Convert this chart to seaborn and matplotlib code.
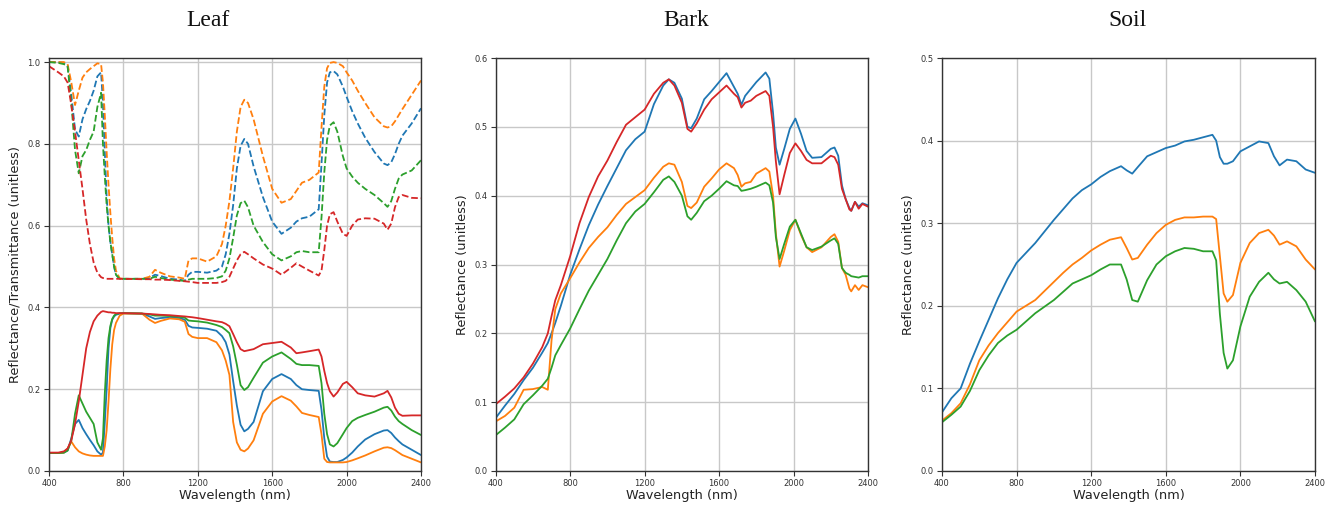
import numpy as np
import pandas as pd
import matplotlib
matplotlib.use("Agg")
import matplotlib.pyplot as plt
import seaborn as sns

# ---------------- data ----------------
leaf_wl = [400, 450, 480, 500, 520, 540, 560, 580, 600, 620, 640, 660,
           680, 690, 700, 710, 720, 730, 740, 750, 760, 780, 800, 900,
           940, 970, 1000, 1050, 1100, 1130, 1150, 1170, 1200, 1250, 1300, 1330,
           1350, 1370, 1390, 1410, 1430, 1450, 1470, 1500, 1550, 1600, 1650, 1700,
           1730, 1760, 1800, 1850, 1865, 1880, 1895, 1910, 1930, 1950, 1980, 2000,
           2030, 2060, 2100, 2150, 2200, 2220, 2240, 2260, 2280, 2300, 2350, 2400]

# dashed (upper) curves
leaf_t_blue = [1.0, 1.0, 0.998, 0.99, 0.92, 0.835, 0.818, 0.86, 0.885, 0.905, 0.93, 0.965,
               0.975, 0.90, 0.78, 0.67, 0.60, 0.56, 0.53, 0.50, 0.48, 0.47, 0.47, 0.47,
               0.472, 0.48, 0.477, 0.47, 0.468, 0.465, 0.48, 0.487, 0.487, 0.485, 0.49, 0.50,
               0.53, 0.58, 0.65, 0.74, 0.795, 0.812, 0.80, 0.745, 0.67, 0.61, 0.58, 0.595,
               0.61, 0.618, 0.622, 0.64, 0.75, 0.87, 0.95, 0.975, 0.978, 0.97, 0.94, 0.915,
               0.88, 0.85, 0.815, 0.78, 0.752, 0.748, 0.755, 0.775, 0.80, 0.82, 0.85, 0.887]
leaf_t_orange = [1.0, 1.0, 1.0, 0.995, 0.95, 0.895, 0.93, 0.962, 0.975, 0.983, 0.99, 0.997,
                 0.995, 0.95, 0.87, 0.78, 0.70, 0.63, 0.57, 0.52, 0.49, 0.471, 0.47, 0.47,
                 0.475, 0.492, 0.485, 0.476, 0.473, 0.47, 0.515, 0.52, 0.52, 0.512, 0.525, 0.555,
                 0.60, 0.66, 0.74, 0.83, 0.89, 0.908, 0.90, 0.86, 0.77, 0.69, 0.656, 0.665,
                 0.685, 0.705, 0.712, 0.73, 0.84, 0.94, 0.985, 0.998, 1.0, 0.998, 0.99, 0.975,
                 0.955, 0.93, 0.90, 0.865, 0.843, 0.84, 0.843, 0.855, 0.87, 0.885, 0.92, 0.955]
leaf_t_green = [1.0, 0.998, 0.995, 0.99, 0.90, 0.785, 0.728, 0.77, 0.785, 0.81, 0.83, 0.89,
                0.925, 0.80, 0.72, 0.65, 0.60, 0.56, 0.53, 0.50, 0.48, 0.47, 0.47, 0.47,
                0.47, 0.475, 0.472, 0.468, 0.466, 0.465, 0.468, 0.47, 0.47, 0.47, 0.472, 0.476,
                0.49, 0.52, 0.57, 0.625, 0.655, 0.661, 0.645, 0.60, 0.56, 0.53, 0.515, 0.525,
                0.535, 0.538, 0.535, 0.535, 0.62, 0.73, 0.81, 0.845, 0.853, 0.83, 0.77, 0.74,
                0.72, 0.705, 0.69, 0.675, 0.655, 0.646, 0.66, 0.69, 0.715, 0.725, 0.735, 0.76]
leaf_t_red = [0.99, 0.975, 0.965, 0.95, 0.895, 0.83, 0.76, 0.69, 0.615, 0.555, 0.51, 0.485,
              0.474, 0.472, 0.471, 0.47, 0.47, 0.47, 0.47, 0.47, 0.47, 0.47, 0.47, 0.469,
              0.469, 0.468, 0.468, 0.467, 0.465, 0.464, 0.463, 0.462, 0.46, 0.46, 0.46, 0.462,
              0.465, 0.475, 0.495, 0.515, 0.53, 0.536, 0.53, 0.52, 0.505, 0.495, 0.48, 0.497,
              0.508, 0.50, 0.49, 0.478, 0.49, 0.54, 0.60, 0.628, 0.633, 0.61, 0.58, 0.575,
              0.60, 0.615, 0.618, 0.617, 0.605, 0.59, 0.605, 0.645, 0.67, 0.675, 0.668, 0.667]

# solid (lower) curves
leaf_r_blue = [0.044, 0.044, 0.045, 0.05, 0.08, 0.115, 0.125, 0.105, 0.09, 0.076, 0.063, 0.048,
               0.04, 0.045, 0.12, 0.20, 0.30, 0.35, 0.37, 0.378, 0.382, 0.385, 0.386, 0.385,
               0.378, 0.372, 0.374, 0.376, 0.374, 0.37, 0.355, 0.351, 0.35, 0.348, 0.343, 0.33,
               0.315, 0.285, 0.22, 0.16, 0.113, 0.097, 0.103, 0.12, 0.195, 0.225, 0.237, 0.225,
               0.21, 0.20, 0.198, 0.196, 0.15, 0.08, 0.035, 0.023, 0.022, 0.022, 0.027, 0.033,
               0.045, 0.06, 0.077, 0.09, 0.099, 0.10, 0.093, 0.082, 0.073, 0.065, 0.052, 0.039]
leaf_r_orange = [0.044, 0.044, 0.045, 0.055, 0.072, 0.058, 0.048, 0.043, 0.04, 0.038, 0.037, 0.037,
                 0.037, 0.037, 0.06, 0.10, 0.17, 0.25, 0.31, 0.345, 0.362, 0.38, 0.385, 0.385,
                 0.37, 0.362, 0.367, 0.373, 0.371, 0.365, 0.335, 0.328, 0.325, 0.325, 0.315, 0.295,
                 0.27, 0.235, 0.12, 0.07, 0.052, 0.048, 0.055, 0.075, 0.14, 0.17, 0.183, 0.172,
                 0.158, 0.142, 0.137, 0.132, 0.09, 0.03, 0.022, 0.021, 0.021, 0.021, 0.021, 0.022,
                 0.026, 0.031, 0.038, 0.048, 0.057, 0.058, 0.056, 0.051, 0.045, 0.039, 0.03, 0.021]
leaf_r_green = [0.044, 0.044, 0.045, 0.05, 0.075, 0.14, 0.185, 0.165, 0.145, 0.13, 0.115, 0.07,
                0.052, 0.08, 0.19, 0.27, 0.325, 0.355, 0.372, 0.38, 0.384, 0.386, 0.386, 0.385,
                0.383, 0.38, 0.38, 0.379, 0.377, 0.375, 0.368, 0.367, 0.366, 0.363, 0.357, 0.352,
                0.345, 0.337, 0.305, 0.26, 0.21, 0.198, 0.205, 0.228, 0.265, 0.28, 0.29, 0.274,
                0.262, 0.259, 0.259, 0.257, 0.215, 0.14, 0.09, 0.065, 0.06, 0.068, 0.09, 0.105,
                0.122, 0.13, 0.137, 0.145, 0.155, 0.157, 0.148, 0.133, 0.122, 0.115, 0.10, 0.088]
leaf_r_red = [0.045, 0.045, 0.048, 0.055, 0.075, 0.115, 0.17, 0.235, 0.30, 0.34, 0.366, 0.38,
              0.389, 0.391, 0.39, 0.389, 0.388, 0.388, 0.387, 0.387, 0.386, 0.386, 0.386, 0.385,
              0.384, 0.383, 0.382, 0.381, 0.379, 0.378, 0.377, 0.376, 0.374, 0.37, 0.366, 0.364,
              0.36, 0.354, 0.335, 0.315, 0.298, 0.293, 0.295, 0.298, 0.31, 0.313, 0.316, 0.302,
              0.288, 0.29, 0.293, 0.297, 0.28, 0.245, 0.215, 0.195, 0.182, 0.192, 0.213, 0.218,
              0.205, 0.19, 0.185, 0.182, 0.19, 0.196, 0.18, 0.155, 0.14, 0.135, 0.136, 0.136]

bark_wl = [400, 450, 500, 550, 600, 650, 680, 700, 720, 750, 800, 850,
           900, 950, 1000, 1050, 1100, 1150, 1200, 1250, 1300, 1330, 1360, 1400,
           1430, 1450, 1480, 1520, 1560, 1600, 1640, 1680, 1700, 1720, 1740, 1770,
           1800, 1850, 1870, 1890, 1905, 1925, 1950, 1980, 2010, 2040, 2070, 2100,
           2150, 2200, 2220, 2240, 2260, 2280, 2300, 2310, 2330, 2350, 2370, 2400]
bark_blue = [0.077, 0.095, 0.112, 0.132, 0.15, 0.172, 0.186, 0.20, 0.215, 0.24, 0.285, 0.322,
             0.357, 0.387, 0.414, 0.44, 0.466, 0.482, 0.493, 0.533, 0.56, 0.569, 0.564, 0.541,
             0.50, 0.498, 0.512, 0.54, 0.552, 0.565, 0.578, 0.558, 0.548, 0.532, 0.545, 0.555,
             0.565, 0.579, 0.57, 0.52, 0.47, 0.445, 0.468, 0.497, 0.512, 0.49, 0.465, 0.455,
             0.456, 0.468, 0.47, 0.458, 0.415, 0.395, 0.382, 0.378, 0.391, 0.384, 0.389, 0.386]
bark_orange = [0.072, 0.08, 0.092, 0.118, 0.119, 0.122, 0.118, 0.19, 0.235, 0.258, 0.28, 0.303,
               0.324, 0.34, 0.354, 0.372, 0.388, 0.398, 0.408, 0.426, 0.442, 0.447, 0.445, 0.42,
               0.385, 0.382, 0.39, 0.413, 0.425, 0.438, 0.447, 0.44, 0.43, 0.413, 0.418, 0.42,
               0.432, 0.44, 0.435, 0.40, 0.345, 0.297, 0.32, 0.35, 0.365, 0.343, 0.325, 0.318,
               0.325, 0.34, 0.344, 0.333, 0.295, 0.285, 0.265, 0.261, 0.27, 0.263, 0.27, 0.267]
bark_green = [0.052, 0.063, 0.075, 0.097, 0.11, 0.124, 0.134, 0.15, 0.168, 0.183, 0.207, 0.235,
              0.262, 0.285, 0.308, 0.335, 0.36, 0.377, 0.388, 0.405, 0.423, 0.428, 0.42, 0.40,
              0.37, 0.365, 0.375, 0.392, 0.40, 0.41, 0.421, 0.415, 0.414, 0.407, 0.408, 0.41,
              0.413, 0.419, 0.415, 0.39, 0.34, 0.308, 0.33, 0.355, 0.365, 0.345, 0.325, 0.321,
              0.326, 0.335, 0.338, 0.33, 0.295, 0.288, 0.285, 0.283, 0.282, 0.281, 0.283, 0.283]
bark_red = [0.097, 0.108, 0.12, 0.136, 0.156, 0.18, 0.20, 0.225, 0.248, 0.27, 0.312, 0.36,
            0.398, 0.428, 0.451, 0.478, 0.503, 0.514, 0.525, 0.548, 0.564, 0.569, 0.56, 0.535,
            0.497, 0.493, 0.505, 0.525, 0.54, 0.55, 0.56, 0.548, 0.543, 0.528, 0.535, 0.538,
            0.545, 0.552, 0.545, 0.50, 0.45, 0.402, 0.43, 0.462, 0.476, 0.465, 0.452, 0.447,
            0.447, 0.458, 0.456, 0.445, 0.41, 0.395, 0.38, 0.378, 0.391, 0.381, 0.388, 0.384]

soil_wl = [400, 450, 500, 550, 600, 650, 700, 750, 800, 850, 900, 950,
           1000, 1050, 1100, 1150, 1200, 1250, 1300, 1360, 1390, 1420, 1450, 1500,
           1550, 1600, 1650, 1700, 1750, 1800, 1850, 1870, 1890, 1910, 1930, 1960,
           2000, 2050, 2100, 2150, 2180, 2210, 2250, 2300, 2350, 2400]
soil_blue = [0.071, 0.088, 0.100, 0.13, 0.157, 0.183, 0.209, 0.232, 0.252, 0.264, 0.276, 0.29,
             0.304, 0.317, 0.33, 0.34, 0.347, 0.356, 0.363, 0.369, 0.364, 0.36, 0.368, 0.381,
             0.386, 0.391, 0.394, 0.399, 0.401, 0.404, 0.407, 0.40, 0.38, 0.372, 0.372, 0.375,
             0.387, 0.393, 0.399, 0.397, 0.381, 0.37, 0.377, 0.375, 0.365, 0.361]
soil_orange = [0.061, 0.07, 0.082, 0.105, 0.134, 0.152, 0.167, 0.18, 0.193, 0.20, 0.207, 0.218,
               0.229, 0.24, 0.25, 0.258, 0.267, 0.274, 0.28, 0.283, 0.27, 0.256, 0.258, 0.274,
               0.288, 0.298, 0.304, 0.307, 0.307, 0.308, 0.308, 0.305, 0.26, 0.215, 0.205, 0.213,
               0.252, 0.276, 0.288, 0.292, 0.285, 0.274, 0.278, 0.272, 0.256, 0.244]
soil_green = [0.059, 0.068, 0.078, 0.097, 0.122, 0.14, 0.155, 0.164, 0.171, 0.181, 0.191, 0.199,
              0.207, 0.217, 0.227, 0.232, 0.237, 0.244, 0.25, 0.25, 0.232, 0.207, 0.205, 0.231,
              0.25, 0.26, 0.266, 0.27, 0.269, 0.266, 0.266, 0.255, 0.19, 0.143, 0.124, 0.134,
              0.175, 0.211, 0.229, 0.24, 0.232, 0.227, 0.229, 0.219, 0.205, 0.181]

panel_titles = ["Leaf", "Bark", "Soil"]
ylabels = ["Reflectance/Transmittance (unitless)", "Reflectance (unitless)", "Reflectance (unitless)"]
xticks = [400, 800, 1200, 1600, 2000, 2400]

# ---------------- style ----------------
sns.set_theme(style="ticks", rc={
    "axes.edgecolor": "#333333",
    "axes.linewidth": 1.0,
    "xtick.color": "#333333",
    "ytick.color": "#333333",
    "xtick.major.size": 3.5,
    "ytick.major.size": 3.5,
    "xtick.major.width": 0.8,
    "ytick.major.width": 0.8,
    "grid.color": "#c8c8c8",
    "grid.linewidth": 1.0,
})
plt.rcParams["font.family"] = ["DejaVu Sans"]

C_BLUE, C_ORANGE, C_GREEN, C_RED = "#1f77b4", "#ff7f0e", "#2ca02c", "#d62728"
LW = 1.3

fig = plt.figure(figsize=(13.33, 5.05), dpi=100)
W, H = 1333, 505
def add_ax(l, r, t=58, b=471):
    return fig.add_axes([l / W, 1 - b / H, (r - l) / W, (b - t) / H])

ax_leaf = add_ax(49, 421)
ax_bark = add_ax(495.7, 868)
ax_soil = add_ax(942, 1315)

def draw(ax, wl, series):
    for vals, col, ls in series:
        df = pd.DataFrame({"wl": wl, "v": vals})
        sns.lineplot(data=df, x="wl", y="v", ax=ax, color=col, linestyle=ls,
                     linewidth=LW, legend=False, errorbar=None)

draw(ax_leaf, leaf_wl, [
    (leaf_t_blue, C_BLUE, "--"), (leaf_t_orange, C_ORANGE, "--"),
    (leaf_t_green, C_GREEN, "--"), (leaf_t_red, C_RED, "--"),
    (leaf_r_blue, C_BLUE, "-"), (leaf_r_orange, C_ORANGE, "-"),
    (leaf_r_green, C_GREEN, "-"), (leaf_r_red, C_RED, "-"),
])
draw(ax_bark, bark_wl, [
    (bark_blue, C_BLUE, "-"), (bark_orange, C_ORANGE, "-"),
    (bark_green, C_GREEN, "-"), (bark_red, C_RED, "-"),
])
draw(ax_soil, soil_wl, [
    (soil_blue, C_BLUE, "-"), (soil_orange, C_ORANGE, "-"),
    (soil_green, C_GREEN, "-"),
])

ylims = [(0, 1.01), (0, 0.6), (0, 0.5)]
yticks = [np.round(np.arange(0, 1.01, 0.2), 1), np.round(np.arange(0, 0.61, 0.1), 1),
          np.round(np.arange(0, 0.51, 0.1), 1)]
for ax, yl, ylim, yt in zip([ax_leaf, ax_bark, ax_soil], ylabels, ylims, yticks):
    ax.set_xlim(400, 2400)
    ax.set_ylim(*ylim)
    ax.set_xticks(xticks)
    ax.set_yticks(yt)
    ax.set_yticklabels([f"{v:.1f}" for v in yt])
    ax.tick_params(labelsize=6, pad=2.5)
    ax.grid(True)
    ax.set_axisbelow(True)
    ax.set_xlabel("Wavelength (nm)", fontsize=9.3, labelpad=0.5, color="#222222")
    ax.set_ylabel(yl, fontsize=9.3, labelpad=4, color="#222222")
    for s in ax.spines.values():
        s.set_visible(True)

for txt, xc in zip(panel_titles, [208, 686, 1127]):
    fig.text(xc / W, 1 - 20 / H, txt, ha="center", va="center",
             fontsize=17, family=["Liberation Serif", "DejaVu Serif"], color="#111111")

fig.savefig("out.png", dpi=100)
